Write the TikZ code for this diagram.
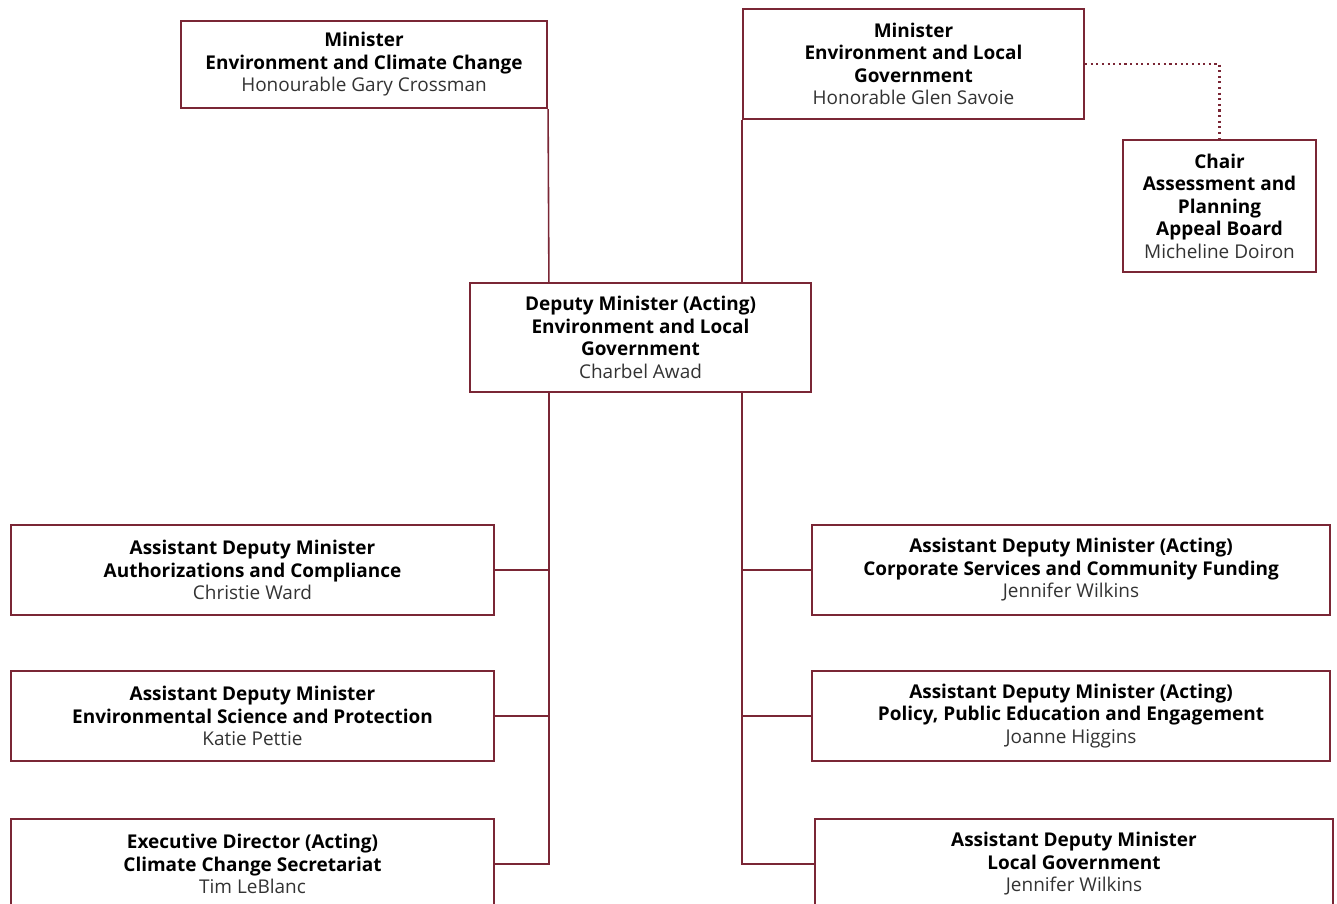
\documentclass[tikz,border=0pt]{standalone}
\usepackage{fontspec}
\setmainfont{Open Sans}
\definecolor{deptred}{HTML}{7A2635}
\definecolor{namegray}{HTML}{333333}
\newcommand{\who}[1]{\textcolor{namegray}{\mdseries #1}}
\tikzset{
  orgbox/.style={draw=deptred, line width=1.25pt, fill=white, align=center, inner sep=0pt, font=\fontsize{10.8}{12.8}\selectfont\bfseries},
  orgline/.style={draw=deptred, line width=0.9pt},
  dotline/.style={draw=deptred, line width=1.2pt, dotted},
}

\begin{document}
\begin{tikzpicture}[x=0.02cm, y=-0.02cm]
    %%%%% START %%%%%
    \useasboundingbox (0, 0) rectangle (1337, 903);
    \clip (0, 0) rectangle (1337, 903);

    % ministers
    \node[orgbox, minimum width=7.32cm, minimum height=1.74cm] (ecc) at (364, 64.5) {Minister\\Environment and Climate Change\\\who{Honourable Gary Crossman}};
    \node[orgbox, minimum width=6.82cm, minimum height=2.2cm] (elg) at (913.5, 64) {Minister\\Environment and Local\\Government\\\who{Honorable Glen Savoie}};
    \node[orgbox, minimum width=3.86cm, minimum height=2.64cm] (chair) at (1219.5, 206) {Chair\\Assessment and\\Planning\\Appeal Board\\\who{Micheline Doiron}};

    % deputy
    \node[orgbox, minimum width=6.82cm, minimum height=2.18cm] (deputy) at (640.5, 337.5) {Deputy Minister (Acting)\\Environment and Local\\Government\\\who{Charbel Awad}};

    % left column
    \node[orgbox, minimum width=9.66cm, minimum height=1.8cm] (auth) at (252.5, 570) {Assistant Deputy Minister\\Authorizations and Compliance\\\who{Christie Ward}};
    \node[orgbox, minimum width=9.66cm, minimum height=1.8cm] (science) at (252.5, 716) {Assistant Deputy Minister\\Environmental Science and Protection\\\who{Katie Pettie}};
    \node[orgbox, minimum width=9.66cm, minimum height=1.8cm] (climate) at (252.5, 864) {Executive Director (Acting)\\Climate Change Secretariat\\\who{Tim LeBlanc}};

    % right column
    \node[orgbox, minimum width=10.36cm, minimum height=1.8cm] (corp) at (1071, 570) {Assistant Deputy Minister (Acting)\\Corporate Services and Community Funding\\\who{Jennifer Wilkins}};
    \node[orgbox, minimum width=10.36cm, minimum height=1.8cm] (policy) at (1071, 716) {Assistant Deputy Minister (Acting)\\Policy, Public Education and Engagement\\\who{Joanne Higgins}};
    \node[orgbox, minimum width=10.36cm, minimum height=1.8cm] (local) at (1074, 864) {Assistant Deputy Minister\\Local Government\\\who{Jennifer Wilkins}};

    % reporting lines
    \coordinate (ecctop) at ([xshift=1.6cm]deputy.north west);
    \coordinate (elgtop) at (elg.south west |- deputy.north);
    \coordinate (leftspine) at ([xshift=1.6cm]deputy.south west);
    \coordinate (rightspine) at (elg.south west |- deputy.south);

    \draw[orgline] (ecc.south east) -- (ecctop);
    \draw[orgline] (elg.south west) -- (elgtop);
    \draw[dotline] (elg.east) -- (elg.east -| chair.north) -- (chair.north);

    \draw[orgline] (leftspine) -- (leftspine |- climate.east) -- (climate.east);
    \draw[orgline] (auth.east) -- (auth.east -| leftspine);
    \draw[orgline] (science.east) -- (science.east -| leftspine);

    \draw[orgline] (rightspine) -- (rightspine |- local.west) -- (local.west);
    \draw[orgline] (corp.west) -- (corp.west -| rightspine);
    \draw[orgline] (policy.west) -- (policy.west -| rightspine);
    %%%%% END %%%%%
\end{tikzpicture}
\end{document}
